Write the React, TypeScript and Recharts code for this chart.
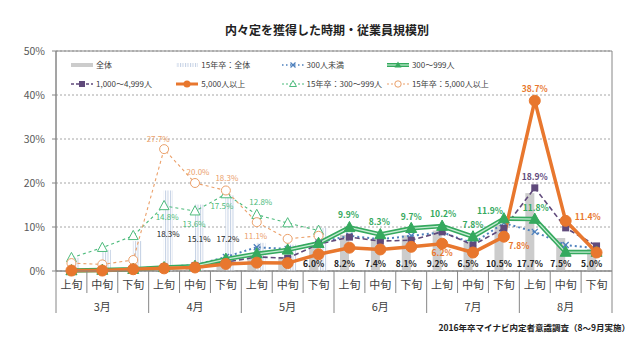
import React from 'react';
import {
  ComposedChart,
  Bar,
  Line,
  XAxis,
  YAxis,
  CartesianGrid,
  ReferenceArea,
  LabelList,
  Legend,
} from 'recharts';

const FONT = '"Noto Sans CJK JP", "Noto Sans", sans-serif';

const periods = ['上旬', '中旬', '下旬'];
const months = ['3月', '4月', '5月', '6月', '7月', '8月'];
const categories = months.flatMap((m) => periods.map((p) => m + p));
const yTicks = [0, 10, 20, 30, 40, 50];

const overall16 = [0.2, 0.2, 0.5, 0.9, 1.2, 2.0, 3.0, 3.2, 6.0, 8.2, 7.4, 8.1, 9.2, 6.5, 10.5, 17.7, 7.5, 5.0];
const overall15 = [3.0, 4.8, 6.8, 18.3, 15.1, 17.2, 6.4, 6.0, 9.8, null, null, null, null, null, null, null, null, null];
const under300 = [0.3, 0.3, 0.5, 1.0, 1.3, 3.2, 5.4, 5.0, 6.5, 8.0, 7.2, 8.0, 8.8, 6.3, 10.9, 8.9, 5.9, 5.2];
const s300to999 = [0.1, 0.2, 0.4, 0.8, 1.1, 2.7, 3.9, 4.8, 6.3, 9.9, 8.3, 9.7, 10.2, 7.8, 11.9, 11.8, 4.3, 4.3];
const s1000to4999 = [0.1, 0.2, 0.4, 0.9, 1.2, 2.0, 3.2, 2.9, 6.1, 7.7, 6.8, 7.0, 8.9, 5.9, 9.7, 18.9, 9.8, 5.7];
const s5000plus = [0.1, 0.1, 0.4, 0.6, 0.8, 1.6, 1.9, 1.8, 3.8, 5.3, 4.9, 5.5, 6.2, 4.2, 7.8, 38.7, 11.4, 4.2];
const y15s300to999 = [3.0, 5.3, 8.0, 14.8, 13.6, 17.5, 12.8, 10.9, 9.2, null, null, null, null, null, null, null, null, null];
const y15s5000plus = [1.8, 1.5, 2.5, 27.7, 20.0, 18.3, 11.1, 7.3, 8.0, null, null, null, null, null, null, null, null, null];

const data = categories.map((cat, i) => ({
  cat,
  overall16: overall16[i],
  overall15: overall15[i],
  under300: under300[i],
  s300to999: s300to999[i],
  s1000to4999: s1000to4999[i],
  s5000plus: s5000plus[i],
  y15s300to999: y15s300to999[i],
  y15s5000plus: y15s5000plus[i],
}));

const C = {
  grayBar: '#cccccc',
  stripe: '#c3d0e4',
  blue: '#4f81bd',
  green: '#35a95e',
  greenLight: '#c4ecd2',
  purple: '#604a7b',
  orange: '#e8772e',
  green15: '#4dbb7c',
  orange15: '#eba06a',
  axis: '#868686',
  text: '#404040',
};

// label offsets (dx, dy) per category index
const lbl5000: Record<number, [number, number]> = { 12: [0, 8], 14: [15, 8], 15: [0, -13], 16: [22, -5] };
const lbl1000: Record<number, [number, number]> = { 15: [0, -12] };
const lbl300: Record<number, [number, number]> = { 9: [-1, -13], 10: [-1, -13], 11: [0, -12], 12: [1, -13], 13: [0, -13], 14: [-14, -9], 15: [1, -12] };
const lbl15_300: Record<number, [number, number]> = { 3: [3, 11], 4: [-1, 12], 5: [-4, 11], 6: [4, -13] };
const lbl15_5000: Record<number, [number, number]> = { 3: [-6, -11], 4: [3, -12], 5: [1, -13], 6: [-1, 13] };

const CELL = 556 / 18;

const makeLineLabel = (offsets: Record<number, [number, number]>, color: string, bold: boolean) => (p: any) => {
  const { x, y, value, index } = p;
  const o = offsets[index];
  if (!o || value == null) return null;
  return (
    <text
      x={x + o[0]}
      y={y + o[1]}
      textAnchor="middle"
      dominantBaseline="central"
      fontSize={bold ? 8.5 : 8}
      fontWeight={bold ? 700 : 400}
      fill={color}
      fontFamily={FONT}
    >
      {Number(value).toFixed(1)}%
    </text>
  );
};

const overallLabel = (p: any) => {
  const { x, y, width, height, value, index } = p;
  if (index < 8 || value == null) return null;
  return (
    <text x={x + width / 2} y={y + height - 8} textAnchor="middle" dominantBaseline="central" fontSize={8.5} fontWeight={700} fill="#222" fontFamily={FONT}>
      {Number(value).toFixed(1)}%
    </text>
  );
};

const overall15Label = (p: any) => {
  const { x, y, width, height, value, index } = p;
  if (index < 3 || index > 5 || value == null) return null;
  return (
    <text x={x + width / 2 - (index === 5 ? 2 : 0)} y={y + height - (index === 3 ? 38 : 33)} textAnchor="middle" dominantBaseline="central" fontSize={8} fill="#222" fontFamily={FONT}>
      {Number(value).toFixed(1)}%
    </text>
  );
};

const triDot = (color: string, filled: boolean, s: number) => (p: any) => {
  const { cx, cy, index, value } = p;
  if (cx == null || cy == null || value == null || Number.isNaN(cy)) return <g key={`t${index}`} />;
  return (
    <path
      key={`t${index}`}
      d={`M${cx},${cy - s * 0.6} L${cx + s * 0.55},${cy + s * 0.42} L${cx - s * 0.55},${cy + s * 0.42} Z`}
      fill={filled ? color : '#fff'}
      stroke={color}
      strokeWidth={1}
    />
  );
};

const circleDot = (color: string, filled: boolean, r: number) => (p: any) => {
  const { cx, cy, index, value } = p;
  if (cx == null || cy == null || value == null || Number.isNaN(cy)) return <g key={`c${index}`} />;
  return <circle key={`c${index}`} cx={cx} cy={cy} r={r} fill={filled ? color : '#fff'} stroke={color} strokeWidth={1} />;
};

const squareDot = (color: string, s: number) => (p: any) => {
  const { cx, cy, index, value } = p;
  if (cx == null || cy == null || value == null || Number.isNaN(cy)) return <g key={`s${index}`} />;
  return <rect key={`s${index}`} x={cx - s / 2} y={cy - s / 2} width={s} height={s} fill={color} />;
};

const crossDot = (color: string, s: number) => (p: any) => {
  const { cx, cy, index, value } = p;
  if (cx == null || cy == null || value == null || Number.isNaN(cy)) return <g key={`x${index}`} />;
  const h = s / 2;
  return (
    <g key={`x${index}`}>
      <line x1={cx - h} y1={cy - h} x2={cx + h} y2={cy + h} stroke={color} strokeWidth={1.3} />
      <line x1={cx - h} y1={cy + h} x2={cx + h} y2={cy - h} stroke={color} strokeWidth={1.3} />
    </g>
  );
};

const XTick = (props: any) => {
  const { x, y, payload } = props;
  const i = categories.indexOf(payload.value);
  const left = x - CELL / 2;
  return (
    <g>
      <line x1={left} x2={left} y1={y} y2={i % 3 === 0 ? y + 42 : y + 22} stroke={C.axis} strokeWidth={1} />
      {i === categories.length - 1 && (
        <line x1={x + CELL / 2} x2={x + CELL / 2} y1={y} y2={y + 42} stroke={C.axis} strokeWidth={1} />
      )}
      <text x={x} y={y + 13} textAnchor="middle" dominantBaseline="central" fontSize={11} fill={C.text} fontFamily={FONT}>
        {periods[i % 3]}
      </text>
      {i % 3 === 1 && (
        <text x={x} y={y + 35} textAnchor="middle" dominantBaseline="central" fontSize={11} fill={C.text} fontFamily={FONT}>
          {months[Math.floor(i / 3)]}
        </text>
      )}
    </g>
  );
};

const legendItems = [
  { name: '全体', kind: 'bar' },
  { name: '15年卒：全体', kind: 'stripe' },
  { name: '300人未満', kind: 'under300' },
  { name: '300～999人', kind: 's300' },
  { name: '1,000～4,999人', kind: 's1000' },
  { name: '5,000人以上', kind: 's5000' },
  { name: '15年卒：300～999人', kind: 'y15s300' },
  { name: '15年卒：5,000人以上', kind: 'y15s5000' },
];

const legendMarker = (kind: string) => {
  switch (kind) {
    case 'bar':
      return <rect x={1} y={3} width={22} height={4} fill={C.grayBar} />;
    case 'stripe':
      return <rect x={1} y={3} width={22} height={4} fill="url(#stripePat)" />;
    case 'under300':
      return (
        <g>
          <line x1={1} x2={23} y1={5} y2={5} stroke={C.blue} strokeWidth={1.5} strokeDasharray="1.5 2.5" />
          <line x1={9.5} y1={2.5} x2={14.5} y2={7.5} stroke={C.blue} strokeWidth={1.2} />
          <line x1={9.5} y1={7.5} x2={14.5} y2={2.5} stroke={C.blue} strokeWidth={1.2} />
        </g>
      );
    case 's300':
      return (
        <g>
          <line x1={1} x2={23} y1={5} y2={5} stroke={C.green} strokeWidth={4} />
          <line x1={1} x2={23} y1={5} y2={5} stroke={C.greenLight} strokeWidth={1.2} />
          <path d="M12,1.5 L15.5,7.5 L8.5,7.5 Z" fill={C.green} />
        </g>
      );
    case 's1000':
      return (
        <g>
          <line x1={1} x2={23} y1={5} y2={5} stroke={C.purple} strokeWidth={1.5} strokeDasharray="3 2" />
          <rect x={9} y={2} width={6} height={6} fill={C.purple} />
        </g>
      );
    case 's5000':
      return (
        <g>
          <line x1={1} x2={23} y1={5} y2={5} stroke={C.orange} strokeWidth={3} />
          <circle cx={12} cy={5} r={3.5} fill={C.orange} />
        </g>
      );
    case 'y15s300':
      return (
        <g>
          <line x1={1} x2={23} y1={5} y2={5} stroke={C.green15} strokeWidth={1} strokeDasharray="2 2" />
          <path d="M12,1.5 L15.5,7.5 L8.5,7.5 Z" fill="#fff" stroke={C.green15} strokeWidth={1} />
        </g>
      );
    case 'y15s5000':
      return (
        <g>
          <line x1={1} x2={23} y1={5} y2={5} stroke={C.orange15} strokeWidth={1} strokeDasharray="2 2" />
          <circle cx={12} cy={5} r={3.2} fill="#fff" stroke={C.orange15} strokeWidth={1} />
        </g>
      );
    default:
      return null;
  }
};

const LegendContent = () => (
  <div style={{ position: 'relative', width: 640, height: 100 }}>
    {legendItems.map((it, k) => {
      const col = k % 4;
      const row = Math.floor(k / 4);
      return (
        <div
          key={it.name}
          style={{
            position: 'absolute',
            left: 70 + col * 105.3,
            top: 59 + row * 19,
            height: 12,
            display: 'flex',
            alignItems: 'center',
            fontSize: 8,
            color: C.text,
            fontFamily: FONT,
            whiteSpace: 'nowrap',
            lineHeight: '12px',
          }}
        >
          <svg width={24} height={10} style={{ display: 'block' }}>
            <defs>
              <pattern id="stripePat" width="2.5" height="4" patternUnits="userSpaceOnUse">
                <rect width="2.5" height="4" fill="#ffffff" />
                <rect width="1" height="4" fill={C.stripe} />
              </pattern>
            </defs>
            {legendMarker(it.kind)}
          </svg>
          <span style={{ marginLeft: 2 }}>{it.name}</span>
        </div>
      );
    })}
  </div>
);

export default function App() {
  return (
    <div style={{ position: 'absolute', left: 0, top: 0, width: 640, height: 354, background: '#fff', overflow: 'hidden' }}>
      <div
        style={{
          position: 'absolute',
          left: 0,
          width: 654,
          top: 22,
          textAlign: 'center',
          fontSize: 12,
          fontWeight: 700,
          color: '#222',
          fontFamily: FONT,
          lineHeight: '16px',
        }}
      >
        内々定を獲得した時期・従業員規模別
      </div>
      <ComposedChart
        width={640}
        height={354}
        data={data}
        margin={{ top: 51, right: 28, bottom: 0, left: 0 }}
        barGap={0}
        barCategoryGap={0}
      >
        <defs>
          <pattern id="barStripe" width="2.5" height="4" patternUnits="userSpaceOnUse">
            <rect width="2.5" height="4" fill="#ffffff" />
            <rect width="1" height="4" fill={C.stripe} />
          </pattern>
        </defs>
        <CartesianGrid vertical={false} stroke="#a6a6a6" strokeDasharray="2 2" />
        <XAxis
          dataKey="cat"
          interval={0}
          tickLine={false}
          tickSize={0}
          tickMargin={0}
          height={83}
          axisLine={{ stroke: C.axis }}
          tick={XTick}
        />
        <YAxis
          width={56}
          domain={[0, 50]}
          ticks={yTicks}
          tickFormatter={(v: number) => `${v}%`}
          tick={{ fontSize: 10.5, fill: '#595959', fontFamily: FONT }}
          tickSize={4}
          tickMargin={7}
          axisLine={{ stroke: C.axis }}
          tickLine={{ stroke: C.axis }}
        />
        <ReferenceArea
          x1={categories[0]}
          x2={categories[categories.length - 1]}
          y1={0}
          y2={50}
          fill="none"
          fillOpacity={0}
          stroke={C.axis}
          strokeWidth={1}
          ifOverflow="visible"
        />
        <Legend
          verticalAlign="middle"
          align="center"
          layout="horizontal"
          wrapperStyle={{ position: 'absolute', left: 0, top: 0, width: 640, height: 100 }}
          content={LegendContent}
        />
        <Bar dataKey="overall16" name="全体" fill={C.grayBar} barSize={9} isAnimationActive={false}>
          <LabelList dataKey="overall16" content={overallLabel} />
        </Bar>
        <Bar dataKey="overall15" name="15年卒：全体" fill="url(#barStripe)" barSize={9} isAnimationActive={false}>
          <LabelList dataKey="overall15" content={overall15Label} />
        </Bar>
        <Line
          dataKey="y15s300to999"
          name="15年卒：300～999人"
          stroke={C.green15}
          strokeWidth={1.1}
          strokeDasharray="3 3"
          dot={triDot(C.green15, false, 9)}
          isAnimationActive={false}
        >
          <LabelList dataKey="y15s300to999" content={makeLineLabel(lbl15_300, C.green15, false)} />
        </Line>
        <Line
          dataKey="y15s5000plus"
          name="15年卒：5,000人以上"
          stroke={C.orange15}
          strokeWidth={1.1}
          strokeDasharray="3 3"
          dot={circleDot(C.orange15, false, 4.5)}
          isAnimationActive={false}
        >
          <LabelList dataKey="y15s5000plus" content={makeLineLabel(lbl15_5000, C.orange15, false)} />
        </Line>
        <Line
          dataKey="under300"
          name="300人未満"
          stroke={C.blue}
          strokeWidth={2}
          strokeDasharray="2 3"
          dot={crossDot(C.blue, 6)}
          isAnimationActive={false}
        />
        <Line
          dataKey="s1000to4999"
          name="1,000～4,999人"
          stroke={C.purple}
          strokeWidth={1.6}
          strokeDasharray="5 3"
          dot={squareDot(C.purple, 7)}
          isAnimationActive={false}
        >
          <LabelList dataKey="s1000to4999" content={makeLineLabel(lbl1000, C.purple, true)} />
        </Line>
        <Line
          dataKey="s300to999"
          name="300～999人"
          stroke={C.green}
          strokeWidth={4.5}
          dot={false}
          legendType="none"
          isAnimationActive={false}
        />
        <Line
          dataKey="s300to999"
          name="300～999人 "
          stroke={C.greenLight}
          strokeWidth={1.3}
          dot={triDot(C.green, true, 10)}
          isAnimationActive={false}
        >
          <LabelList dataKey="s300to999" content={makeLineLabel(lbl300, C.green, true)} />
        </Line>
        <Line
          dataKey="s5000plus"
          name="5,000人以上"
          stroke={C.orange}
          strokeWidth={3.5}
          dot={circleDot(C.orange, true, 5.5)}
          isAnimationActive={false}
        >
          <LabelList dataKey="s5000plus" content={makeLineLabel(lbl5000, C.orange, true)} />
        </Line>
      </ComposedChart>
      <div
        style={{
          position: 'absolute',
          right: 10,
          top: 321,
          fontSize: 8.5,
          fontWeight: 700,
          color: '#222',
          fontFamily: FONT,
          lineHeight: '12px',
          whiteSpace: 'nowrap',
        }}
      >
        2016年卒マイナビ内定者意識調査（8～9月実施）
      </div>
    </div>
  );
}
